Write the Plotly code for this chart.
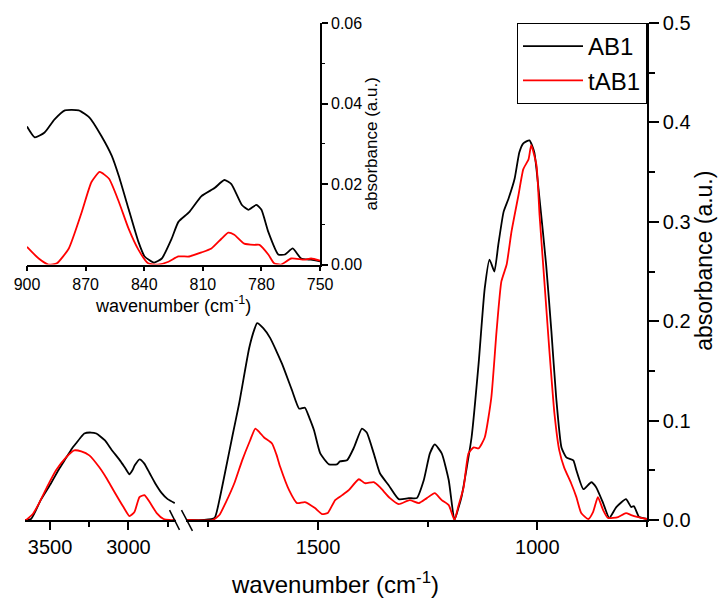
import plotly.graph_objects as go

# ---------------- data ----------------
# AB1, high-wavenumber segment
ab1_hi_wn = [3660, 3622, 3590, 3560, 3494, 3440, 3400, 3360, 3330, 3300, 3282, 3240, 3205,
             3150, 3109, 3050, 3020, 2994, 2975, 2960, 2929, 2900, 2865, 2830, 2788, 2750, 2705]
ab1_hi_abs = [0, 0.001, 0.010, 0.020, 0.037, 0.052, 0.062, 0.072, 0.078, 0.084, 0.087, 0.088, 0.087,
              0.080, 0.071, 0.059, 0.052, 0.046, 0.050, 0.055, 0.061, 0.057, 0.047, 0.037, 0.027, 0.021, 0.017]
# tAB1, high-wavenumber segment
tab1_hi_wn = [3660, 3654, 3610, 3570, 3520, 3462, 3398, 3346, 3301, 3250, 3186, 3140, 3096, 3032,
              2994, 2962, 2930, 2898, 2865, 2820, 2776, 2740, 2700]
tab1_hi_abs = [0, 0, 0.006, 0.017, 0.033, 0.050, 0.063, 0.070, 0.069, 0.065, 0.053, 0.042, 0.030, 0.013,
               0.004, 0.008, 0.023, 0.025, 0.018, 0.007, 0.001, 0, 0]
# AB1, fingerprint segment
ab1_lo_wn = [1800, 1760, 1736, 1725, 1711, 1695, 1680, 1657, 1645, 1639, 1625, 1609, 1595, 1582, 1559,
             1543, 1530, 1520, 1509, 1495, 1475, 1457, 1450, 1434, 1418, 1400, 1389, 1373, 1359, 1339,
             1316, 1293, 1275, 1259, 1245, 1234, 1218, 1202, 1189, 1180, 1173, 1150, 1134, 1120, 1109,
             1098, 1089, 1077, 1066, 1052, 1041, 1032, 1018, 1007, 995, 980, 968, 957, 945, 934, 918,
             911, 895, 877, 866, 850, 836, 820, 798, 786, 780, 768, 759, 750]
ab1_lo_abs = [0, 0, 0.002, 0.020, 0.050, 0.085, 0.117, 0.173, 0.192, 0.198, 0.193, 0.183, 0.170, 0.157, 0.130,
              0.112, 0.113, 0.103, 0.090, 0.067, 0.056, 0.056, 0.059, 0.060, 0.073, 0.092, 0.088, 0.067, 0.047, 0.035,
              0.021, 0.022, 0.022, 0.040, 0.067, 0.076, 0.067, 0.040, 0.0, 0.012, 0.023, 0.083, 0.157, 0.233, 0.262,
              0.250, 0.277, 0.310, 0.323, 0.343, 0.370, 0.379, 0.382, 0.370, 0.323, 0.257, 0.190, 0.123, 0.073, 0.063, 0.060,
              0.050, 0.031, 0.038, 0.033, 0.017, 0.002, 0.013, 0.021, 0.013, 0.014, 0.003, 0.002, 0.001]
# tAB1, fingerprint segment
tab1_lo_wn = [1800, 1740, 1725, 1711, 1690, 1673, 1655, 1643, 1633, 1623, 1605, 1595, 1586, 1566, 1548,
              1530, 1507, 1491, 1478, 1461, 1445, 1430, 1407, 1393, 1373, 1359, 1336, 1316, 1291, 1270,
              1252, 1234, 1218, 1202, 1189, 1180, 1168, 1157, 1145, 1134, 1120, 1105, 1093, 1082, 1070,
              1059, 1043, 1032, 1020, 1014, 1002, 995, 984, 973, 961, 950, 939, 923, 911, 900, 884, 873,
              862, 850, 839, 816, 798, 786, 770, 750]
tab1_lo_abs = [0, 0, 0.005, 0.017, 0.038, 0.060, 0.080, 0.092, 0.088, 0.083, 0.077, 0.066, 0.053, 0.030, 0.017,
               0.018, 0.012, 0.006, 0.007, 0.020, 0.025, 0.030, 0.041, 0.037, 0.038, 0.033, 0.022, 0.016, 0.020, 0.017,
               0.022, 0.027, 0.020, 0.015, 0.0, 0.014, 0.033, 0.067, 0.073, 0.072, 0.083, 0.123, 0.190, 0.240, 0.257,
               0.290, 0.327, 0.353, 0.363, 0.377, 0.357, 0.307, 0.240, 0.173, 0.107, 0.070, 0.053, 0.037, 0.023, 0.007,
               0.001, 0.008, 0.023, 0.010, 0.002, 0.003, 0.007, 0.005, 0.003, 0.001]
# inset (900-750 cm-1)
ab1_in_wn = [900, 896, 891, 886, 880.6, 873.5, 868, 862, 856.6, 853, 848, 843, 839.8, 835, 831, 826, 822.5,
             817, 810.7, 804, 799, 795.4, 790, 786.7, 782.6, 780, 776.5, 771.4, 768, 764, 759.7, 754.6, 750]
ab1_in_abs = [0.0343, 0.0316, 0.0328, 0.0360, 0.0383, 0.0383, 0.0365, 0.0320, 0.0270, 0.0220, 0.0138, 0.0057,
              0.0020, 0.0005, 0.0015, 0.0064, 0.0106, 0.0130, 0.0170, 0.0190, 0.0210, 0.0200, 0.0148, 0.0136,
              0.0148, 0.0136, 0.0081, 0.0025, 0.0025, 0.0040, 0.0015, 0.0012, 0.0008]
tab1_in_wn = [900, 894, 889, 884.7, 878.6, 872, 867, 862.8, 858, 853, 848, 843, 838, 833, 827.6, 822.5, 817,
              810.7, 805.6, 800.5, 797, 793.9, 788.8, 783.7, 781, 776.5, 773.5, 770, 764.8, 758, 754.6, 750]
tab1_in_abs = [0.0044, 0.0015, 0, 0.0003, 0.0040, 0.0130, 0.0205, 0.0230, 0.0213, 0.0156, 0.0089, 0.0037,
               0.0003, 0, 0.0007, 0.0020, 0.0020, 0.0030, 0.0040, 0.0064, 0.0079, 0.0074, 0.0052, 0.0049,
               0.0049, 0.0025, 0.0003, 0, 0.0015, 0.0012, 0.0015, 0.0010]

main_x_ticks_hi = [3500, 3000]
main_x_ticks_lo = [1500, 1000]
series_names = ["AB1", "tAB1"]
series_colors = ["black", "red"]

FONT = "Liberation Sans, Arial, sans-serif"
LW = 1.8

fig = go.Figure()

def add(x, y, xa, ya, i, show):
    fig.add_trace(go.Scatter(
        x=x, y=y, xaxis=xa, yaxis=ya, mode="lines", name=series_names[i],
        legendgroup=series_names[i], showlegend=show,
        line=dict(color=series_colors[i], width=LW, shape="spline", smoothing=0.5)))

add(ab1_hi_wn, ab1_hi_abs, "x", "y", 0, True)
add(tab1_hi_wn, tab1_hi_abs, "x", "y", 1, True)
add(ab1_lo_wn, ab1_lo_abs, "x2", "y", 0, False)
add(tab1_lo_wn, tab1_lo_abs, "x2", "y", 1, False)
add(ab1_in_wn, ab1_in_abs, "x3", "y3", 0, False)
add(tab1_in_wn, tab1_in_abs, "x3", "y3", 1, False)

axis_common = dict(showline=True, linecolor="black", linewidth=1.5, showgrid=False, zeroline=False,
                   ticks="outside", tickcolor="black", tickwidth=1.5, color="black")

fig.update_layout(
    width=719, height=601, autosize=False,
    margin=dict(l=23, r=72, t=20, b=81),
    paper_bgcolor="white", plot_bgcolor="rgba(0,0,0,0)",
    font=dict(family=FONT, color="black"),
    xaxis=dict(domain=[0, 0.2420], anchor="y", range=[3660, 2700], tickvals=main_x_ticks_hi,
               ticklen=8, tickfont=dict(size=20),
               minor=dict(tickvals=[3250, 2750], ticks="outside", ticklen=5, tickcolor="black", tickwidth=1.5),
               **axis_common),
    xaxis2=dict(domain=[0.2596, 1], anchor="y", range=[1800, 750], tickvals=main_x_ticks_lo,
                ticklen=8, tickfont=dict(size=20),
                minor=dict(tickvals=[1750, 1250, 750], ticks="outside", ticklen=5, tickcolor="black", tickwidth=1.5),
                **axis_common),
    yaxis=dict(domain=[0, 1], anchor="x2", side="right", range=[0, 0.5], dtick=0.1, tick0=0,
               tickformat=".1f", ticklen=10, tickfont=dict(size=20),
               minor=dict(dtick=0.05, ticks="outside", ticklen=6, tickcolor="black", tickwidth=1.5),
               **axis_common),
    xaxis3=dict(domain=[0.0032, 0.4744], anchor="y3", range=[900, 750], dtick=30, tick0=0,
                ticklen=5, tickfont=dict(size=16),
                title=dict(text="wavenumber (cm<sup>-1</sup>)", font=dict(size=18), standoff=6),
                **axis_common),
    yaxis3=dict(domain=[0.514, 1.0], anchor="x3", side="right", range=[0, 0.06], dtick=0.02, tick0=0,
                tickformat=".2f", ticklen=6, tickfont=dict(size=16),
                minor=dict(dtick=0.01, ticks="outside", ticklen=3, tickcolor="black", tickwidth=1.2),
                title=dict(text="absorbance (a.u.)", font=dict(size=17), standoff=2),
                **axis_common),
    legend=dict(x=1, y=1, xanchor="right", yanchor="top", bgcolor="white",
                bordercolor="black", borderwidth=1, font=dict(size=24), tracegroupgap=0,
                itemwidth=60),
    annotations=[
        dict(text="wavenumber (cm<sup>-1</sup>)", xref="paper", yref="paper", x=0.498, y=-0.126,
             xanchor="center", yanchor="middle", showarrow=False, font=dict(size=24)),
        dict(text="absorbance (a.u.)", xref="paper", yref="paper", x=1.0905, y=0.522, textangle=-90,
             xanchor="center", yanchor="middle", showarrow=False, font=dict(size=23)),
    ],
    shapes=[
        dict(type="line", xref="paper", yref="paper", x0=0.2324, y0=0.02, x1=0.2484, y1=-0.02,
             line=dict(color="black", width=1.5)),
        dict(type="line", xref="paper", yref="paper", x0=0.2516, y0=0.02, x1=0.2692, y1=-0.022,
             line=dict(color="black", width=1.5)),
    ],
)

fig.write_html("out.html")
